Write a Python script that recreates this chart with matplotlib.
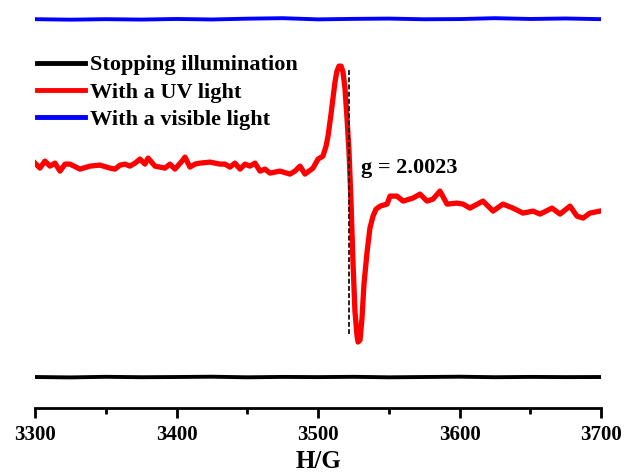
import numpy as np
import matplotlib
matplotlib.use("Agg")
import matplotlib.pyplot as plt
from matplotlib.ticker import MultipleLocator

plt.rcParams['font.family'] = ['Liberation Serif', 'DejaVu Serif']
plt.rcParams['font.weight'] = 'bold'

# EPR spectra, field in gauss, intensity in arbitrary units
field_uv = [3300, 3303.5, 3307, 3310.6, 3314.1, 3317.7, 3321.2, 3324.7, 3331.8, 3338.9,
            3345.9, 3353, 3356.5, 3360.1, 3363.6, 3367.1, 3370.7, 3374.2, 3377.7, 3379.9,
            3384.8, 3391.9, 3395.4, 3398.9, 3403.9, 3406, 3409.5, 3413.1, 3416.6, 3423.7,
            3430.7, 3434.3, 3437.8, 3441.3, 3444.9, 3448.4, 3451.9, 3455.5, 3459, 3462.5,
            3466.1, 3473.1, 3480.2, 3483.7, 3487.3, 3490.8, 3496.5, 3500, 3503.5, 3505.7,
            3507.1, 3509.2, 3510.6, 3512, 3513.4, 3514.8, 3516.3, 3517.7, 3519.1, 3520.5,
            3521.9, 3523.3, 3524.7, 3526.1, 3527.6, 3528.3, 3529.7, 3531.1, 3532.5, 3534.6,
            3536.7, 3538.9, 3541, 3544, 3548.8, 3550.9, 3555.8, 3560.1, 3567.1, 3572.1,
            3577, 3581.3, 3586.2, 3591.2, 3598.2, 3602.5, 3607.4, 3616.6, 3623.7, 3630.7,
            3637.8, 3644.9, 3651.9, 3656.9, 3665.4, 3671, 3678.1, 3683, 3687.3, 3692.2, 3699.3]
signal_uv = [245, 240, 247, 242, 245, 237, 244, 244, 239, 242,
             243, 240, 239, 243, 244, 242, 245, 249, 244, 250,
             242, 240, 244, 239, 247, 251, 241, 244, 245, 246,
             244, 244, 241, 245, 239, 244, 242, 245, 237, 239,
             235, 237, 234, 237, 242, 234, 240, 249, 252, 262,
             272, 294, 310, 326, 337, 342, 342, 336, 319, 290,
             257, 207, 147, 97, 72, 66, 68, 90, 124, 155,
             180, 192, 199, 202, 204, 212, 212, 207, 210, 214,
             207, 209, 217, 204, 205, 204, 200, 207, 197, 204,
             200, 195, 197, 194, 200, 194, 202, 192, 190, 195, 197]

field_flat = [3300, 3325, 3350, 3375, 3400, 3425, 3450, 3475, 3500, 3525,
              3550, 3575, 3600, 3625, 3650, 3675, 3700]
signal_visible = [389, 388.5, 389, 388.6, 389.2, 388.7, 389.5, 390, 388.8, 389.3,
                  389.6, 388.9, 389.1, 390, 389.2, 389.7, 389]
signal_dark = [31, 30.6, 31.2, 30.8, 31, 31.3, 30.7, 31.1, 30.9, 31.2,
               30.7, 31, 31.3, 30.8, 31.1, 30.9, 31]

g_field = 3521.9
g_label = 'g = 2.0023'

fig = plt.figure(figsize=(6.25, 4.72), dpi=100)
ax = fig.add_axes([0.056, 0.1356, 0.9056, 0.8513])

ax.plot(field_flat, signal_dark, color='black', lw=2.8, label='Stopping illumination')
ax.plot(field_uv, signal_uv, color='#ff0000', lw=3.8, label='With a UV light',
        solid_joinstyle='round')
ax.plot(field_flat, signal_visible, color='#0000ff', lw=2.8, label='With a visible light')
ax.plot([g_field, g_field], [74, 340], color='#222222', lw=1.4, ls=(0, (2.5, 1.2)))
ax.text(3530.5, 240, g_label, fontsize=16, fontweight='bold', va='center', ha='left')

ax.set_xlim(3300, 3700)
ax.set_ylim(0, 402)
for s in ['left', 'right', 'top']:
    ax.spines[s].set_visible(False)
ax.spines['bottom'].set_linewidth(2)
ax.set_yticks([])
ax.xaxis.set_major_locator(MultipleLocator(100))
ax.xaxis.set_minor_locator(MultipleLocator(50))
ax.tick_params(axis='x', which='major', direction='out', length=7, width=2,
               labelsize=15, pad=5.5)
ax.tick_params(axis='x', which='minor', direction='out', length=4, width=2)
for lab in ax.get_xticklabels():
    lab.set_fontweight('bold')
ax.set_xlabel('H/G', fontsize=18, fontweight='bold', labelpad=3)

leg = ax.legend(loc='upper left', bbox_to_anchor=(0.0035, 0.879), frameon=False,
                fontsize=16, handlelength=2.16, handletextpad=0.22, labelspacing=0.3,
                borderpad=0, borderaxespad=0)
for t in leg.get_texts():
    t.set_fontweight('bold')
for h in leg.legend_handles:
    h.set_linewidth(3.5)

fig.savefig('out.png', dpi=100)
